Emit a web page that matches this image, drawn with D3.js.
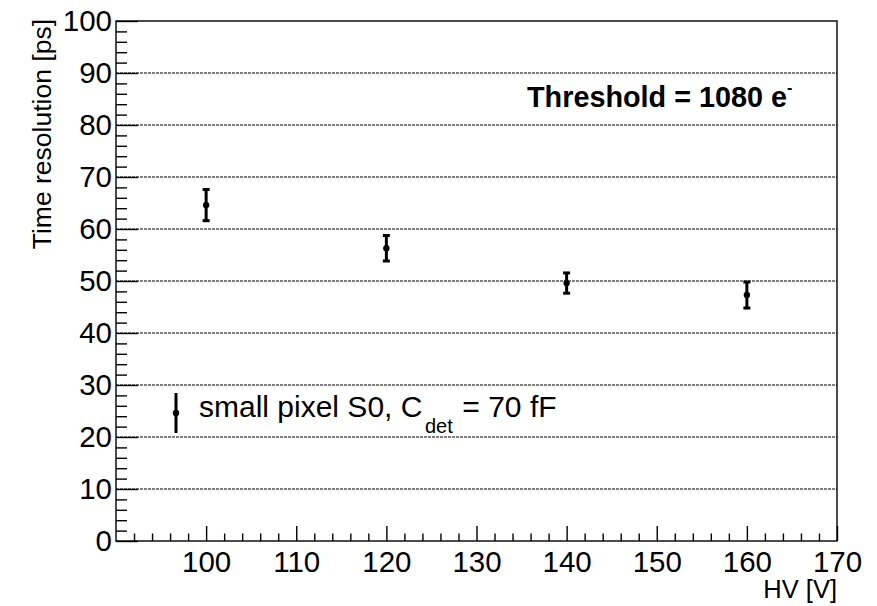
<!DOCTYPE html>
<html><head><meta charset="utf-8">
<script src="https://cdn.jsdelivr.net/npm/d3@7"></script>
<style>body{margin:0;background:#fff}svg{display:block}text{font-family:"Liberation Sans",Arial,sans-serif}</style>
</head><body><svg id="c" width="877" height="606"></svg>
<script>
const hv = [100, 120, 140, 160];
const resolution = [64.6, 56.3, 49.6, 47.3];
const errors = [3.0, 2.45, 1.95, 2.5];
const xTicks = [100, 110, 120, 130, 140, 150, 160, 170];
const yTicks = [0, 10, 20, 30, 40, 50, 60, 70, 80, 90, 100];
const gridY = [10, 20, 30, 40, 50, 60, 70, 80, 90];

const svg = d3.select("#c");
const L = 116, R = 837, T = 21, B = 541;
const x = d3.scaleLinear().domain([90, 170]).range([L, R]);
const y = d3.scaleLinear().domain([0, 100]).range([B, T]);

// gridlines
svg.append("g").selectAll("line").data(gridY).join("line")
  .attr("x1", L).attr("x2", R).attr("y1", d => y(d)).attr("y2", d => y(d))
  .attr("stroke", "#000").attr("stroke-width", 1.1).attr("stroke-dasharray", "3,1");

// frame
svg.append("rect").attr("x", L).attr("y", T).attr("width", R - L).attr("height", B - T)
  .attr("fill", "none").attr("stroke", "#000").attr("stroke-width", 1.4);

// x axis ticks (inside, upwards)
const xMinor = d3.range(92, 170, 2).filter(v => v % 10 !== 0);
const xAxis = d3.axisBottom(x).tickValues(xTicks).tickSize(-15).tickPadding(20).tickFormat(d3.format("d"));
const gx = svg.append("g").attr("transform", `translate(0,${B})`).call(xAxis);
gx.select(".domain").remove();
gx.selectAll(".tick line").attr("stroke-width", 1.4);
gx.selectAll("text").attr("font-size", 29.5).attr("fill", "#000").attr("dy", "0.71em").attr("y", 10);
const gxm = svg.append("g").attr("transform", `translate(0,${B})`).call(d3.axisBottom(x).tickValues(xMinor).tickSize(-7.5).tickFormat(""));
gxm.select(".domain").remove();
gxm.selectAll(".tick line").attr("stroke-width", 1.4);

// y axis
const yMinor = d3.range(2, 100, 2).filter(v => v % 10 !== 0);
const gy = svg.append("g").attr("transform", `translate(${L},0)`).call(d3.axisLeft(y).tickValues(yTicks).tickSize(-22).tickPadding(6).tickFormat(d3.format("d")));
gy.select(".domain").remove();
gy.selectAll(".tick line").attr("stroke-width", 1.4);
gy.selectAll("text").attr("font-size", 29.5).attr("fill", "#000").attr("x", -4);
const gym = svg.append("g").attr("transform", `translate(${L},0)`).call(d3.axisLeft(y).tickValues(yMinor).tickSize(-11).tickFormat(""));
gym.select(".domain").remove();
gym.selectAll(".tick line").attr("stroke-width", 1.4);

// axis titles
svg.append("text").attr("transform", `translate(51,${T - 2}) rotate(-90)`).attr("text-anchor", "end")
  .attr("font-size", 26.5).text("Time resolution [ps]");
svg.append("text").attr("x", R).attr("y", 598).attr("text-anchor", "end").attr("font-size", 25.5).text("HV [V]");

// data
const pts = hv.map((h, i) => ({x: h, y: resolution[i], e: errors[i]}));
const g = svg.append("g");
g.selectAll("line.eb").data(pts).join("line").attr("class", "eb")
  .attr("x1", d => x(d.x)).attr("x2", d => x(d.x)).attr("y1", d => y(d.y + d.e)).attr("y2", d => y(d.y - d.e))
  .attr("stroke", "#000").attr("stroke-width", 3);
["top", "bot"].forEach(k => {
  g.selectAll("line." + k).data(pts).join("line").attr("class", k)
    .attr("x1", d => x(d.x) - 3.5).attr("x2", d => x(d.x) + 3.5)
    .attr("y1", d => y(k === "top" ? d.y + d.e : d.y - d.e)).attr("y2", d => y(k === "top" ? d.y + d.e : d.y - d.e))
    .attr("stroke", "#000").attr("stroke-width", 3);
});
g.selectAll("circle").data(pts).join("circle").attr("cx", d => x(d.x)).attr("cy", d => y(d.y)).attr("r", 3.2).attr("fill", "#000");

// legend
const lx = 176, ly = 413;
svg.append("line").attr("x1", lx).attr("x2", lx).attr("y1", ly - 20).attr("y2", ly + 20).attr("stroke", "#000").attr("stroke-width", 3);
svg.append("circle").attr("cx", lx).attr("cy", ly).attr("r", 3.2).attr("fill", "#000");
const lt = svg.append("text").attr("x", 199).attr("y", 417).attr("font-size", 30);
lt.append("tspan").text("small pixel S0, C");
lt.append("tspan").attr("x", 425).attr("y", 433).attr("font-size", 20).text("det");
lt.append("tspan").attr("x", 454).attr("y", 417).text(" = 70 fF");

// threshold
const tt = svg.append("text").attr("x", 527).attr("y", 107).attr("font-size", 28.8).attr("font-weight", "bold");
tt.append("tspan").text("Threshold = 1080 e");
tt.append("tspan").attr("dy", -14).attr("font-size", 16).text("-");
</script></body></html>
